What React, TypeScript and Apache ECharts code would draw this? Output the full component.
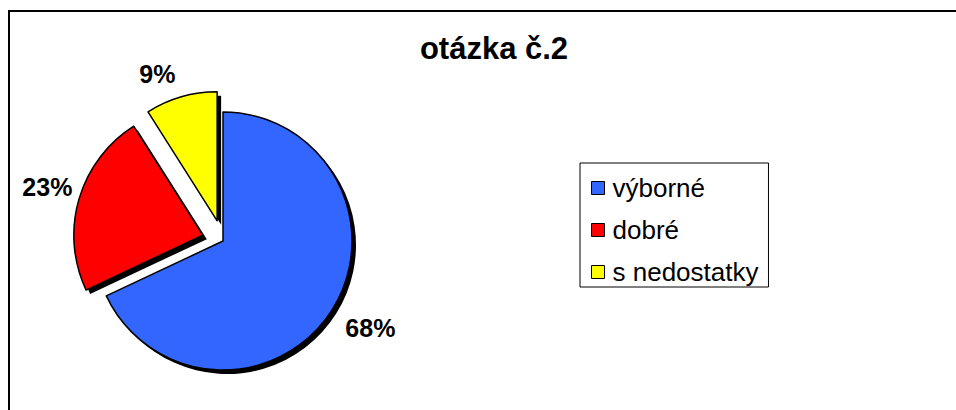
import React, { useEffect, useRef } from "react";
import * as echarts from "echarts";

const categories = ["výborné", "dobré", "s nedostatky"];
const values = [68, 23, 9];
const exploded = [false, true, true];
const colors = ["#3366FF", "#FF0000", "#FFFF00"];
const labelLengths = [42, 35, 28];
const labelShifts = [
  [3, -5],
  [2, -2],
  [-16, 4],
];
const titleText = "otázka č.2";

export default function App() {
  const ref = useRef<HTMLDivElement>(null);
  useEffect(() => {
    document.body.style.margin = "0";
    document.documentElement.style.overflow = "hidden";
    const chart = echarts.init(ref.current!, undefined, { renderer: "svg" });
    const font = "'Liberation Sans', Arial, sans-serif";
    const mainData = categories.map((name, i) => ({
      name,
      value: values[i],
      selected: exploded[i],
      itemStyle: { color: colors[i] },
      labelLine: { length: labelLengths[i], length2: 0, show: false },
    }));
    const shadowData = categories.map((name, i) => ({
      name,
      value: values[i],
      selected: exploded[i],
    }));
    chart.setOption({
      animation: false,
      title: {
        text: titleText,
        left: 489,
        top: 28,
        textAlign: "center",
        textStyle: { fontFamily: font, fontSize: 31, fontWeight: "bold", color: "#000" },
      },
      legend: {
        orient: "vertical",
        left: 580,
        top: 163,
        padding: [12, 10, 2, 11],
        itemGap: 16,
        itemWidth: 13,
        itemHeight: 13,
        icon: "rect",
        borderColor: "#000",
        borderWidth: 1,
        selectedMode: false,
        data: categories,
        itemStyle: { borderColor: "#000", borderWidth: 1 },
        textStyle: {
          fontFamily: font,
          fontSize: 26,
          lineHeight: 26,
          color: "#000",
          padding: [0, 0, 0, 3],
        },
      },
      series: [
        {
          type: "pie",
          name: "main",
          z: 3,
          center: [223, 241],
          radius: 129,
          startAngle: 90,
          clockwise: true,
          selectedMode: "multiple",
          selectedOffset: 21,
          avoidLabelOverlap: false,
          data: mainData,
          itemStyle: { borderColor: "#000", borderWidth: 1.5 },
          select: { itemStyle: { borderColor: "#000", borderWidth: 1.5 } },
          emphasis: { disabled: true },
          label: {
            show: true,
            position: "outside",
            distanceToLabelLine: 0,
            formatter: (p: any) => `${p.value}%`,
            fontFamily: font,
            fontSize: 25,
            fontWeight: "bold",
            color: "#000",
          },
          labelLayout: (p: any) => ({
            align: "center",
            verticalAlign: "middle",
            dx: labelShifts[p.dataIndex][0],
            dy: labelShifts[p.dataIndex][1],
          }),
        },
        {
          type: "pie",
          name: "shadow",
          z: 1,
          silent: true,
          center: [227, 245],
          radius: 129,
          startAngle: 90,
          clockwise: true,
          selectedMode: "multiple",
          selectedOffset: 21,
          data: shadowData,
          itemStyle: { color: "#000", borderWidth: 0 },
          select: { itemStyle: { color: "#000", borderWidth: 0 } },
          emphasis: { disabled: true },
          label: { show: false },
          labelLine: { show: false },
        },
      ],
    });
    return () => chart.dispose();
  }, []);
  return (
    <div style={{ position: "relative", width: 956, height: 410, overflow: "hidden", background: "#fff" }}>
      <div ref={ref} style={{ width: 956, height: 410 }} />
      <div
        style={{
          position: "absolute",
          left: 8,
          top: 10,
          width: 2000,
          height: 2000,
          borderLeft: "2px solid #000",
          borderTop: "2px solid #000",
          pointerEvents: "none",
        }}
      />
    </div>
  );
}
